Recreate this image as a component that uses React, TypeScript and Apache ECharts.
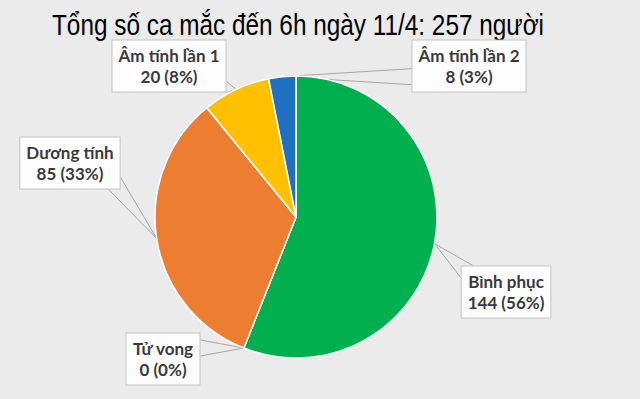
import React, { useEffect, useRef } from "react";
import * as echarts from "echarts";

const titleText = "Tổng số ca mắc đến 6h ngày 11/4: 257 người";
const categories = ["Bình phục", "Tử vong", "Dương tính", "Âm tính lần 1", "Âm tính lần 2"];
const values = [144, 0, 85, 20, 8];
const colors = ["#00b04f", "#7f7f7f", "#ed7d31", "#ffc000", "#1f70c1"];
// label box centres (pixels)
const labelCenters: [number, number][] = [
  [506, 292],
  [163, 359],
  [70, 163],
  [169, 66],
  [469, 66],
];

export default function App() {
  const ref = useRef<HTMLDivElement>(null);
  useEffect(() => {
    if (!ref.current) return;
    const chart = echarts.init(ref.current, undefined, { renderer: "svg" });
    const total = values.reduce((a, b) => a + b, 0);
    const data = categories.map((name, i) => ({
      name,
      value: values[i],
      itemStyle: { color: colors[i] },
    }));
    chart.setOption({
      animation: false,
      backgroundColor: "#ebebeb",
      graphic: [
        {
          type: "text",
          x: 52,
          y: 11,
          scaleX: 0.84,
          silent: true,
          style: {
            text: titleText,
            font: "normal 29px 'Liberation Sans', Arial, sans-serif",
            fill: "#000",
            textVerticalAlign: "top",
          },
        },
      ],
      series: [
        {
          type: "pie",
          center: [296, 217],
          radius: 141,
          startAngle: 90,
          clockwise: true,
          avoidLabelOverlap: false,
          silent: true,
          itemStyle: { borderColor: "#fff", borderWidth: 1.5 },
          label: {
            show: true,
            position: "outside",
            formatter: (p: any) =>
              `${p.name}\n${p.value} (${Math.round((p.value / total) * 100)}%)`,
            fontFamily: "Lato, 'Open Sans', sans-serif",
            fontWeight: "bold",
            fontSize: 17,
            lineHeight: 21,
            color: "#3a3a3a",
            backgroundColor: "#fdfdfd",
            borderColor: "#c4c4c4",
            borderWidth: 1,
            padding: [5, 6, 4, 6],
            align: "center",
          },
          labelLine: {
            show: true,
            length: 10,
            length2: 10,
            smooth: false,
            lineStyle: { color: "#a6a6a6", width: 1 },
          },
          labelLayout: (params: any) => {
            const i = params.dataIndex;
            const [cx, cy] = labelCenters[i];
            const w = params.labelRect.width;
            const h = params.labelRect.height;
            const x0 = cx - w / 2,
              x1 = cx + w / 2,
              y0 = cy - h / 2,
              y1 = cy + h / 2;
            const anchor = params.labelLinePoints
              ? params.labelLinePoints[0]
              : [cx, cy];
            const ax = anchor[0],
              ay = anchor[1];
            const px = Math.min(Math.max(ax, x0), x1);
            const py = Math.min(Math.max(ay, y0), y1);
            const s = 12;
            let p1: number[], p2: number[];
            const onV = px === x0 || px === x1;
            const onH = py === y0 || py === y1;
            if (onV && onH) {
              p1 = [px + (px === x0 ? s : -s), py];
              p2 = [px, py + (py === y0 ? s : -s)];
            } else if (onV) {
              const a = Math.max(y0, py - 8);
              const b = Math.min(y1, py + 8);
              p1 = [px, a];
              p2 = [px, b];
            } else {
              const a = Math.max(x0, px - 10);
              const b = Math.min(x1, px + 10);
              p1 = [a, py];
              p2 = [b, py];
            }
            return {
              x: cx,
              y: cy,
              align: "center",
              verticalAlign: "middle",
              labelLinePoints: [p1, [ax, ay], p2],
            };
          },
          data,
        },
      ],
    });
    return () => chart.dispose();
  }, []);
  return (
    <div
      ref={ref}
      style={{ position: "fixed", left: 0, top: 0, width: 640, height: 399 }}
    />
  );
}
